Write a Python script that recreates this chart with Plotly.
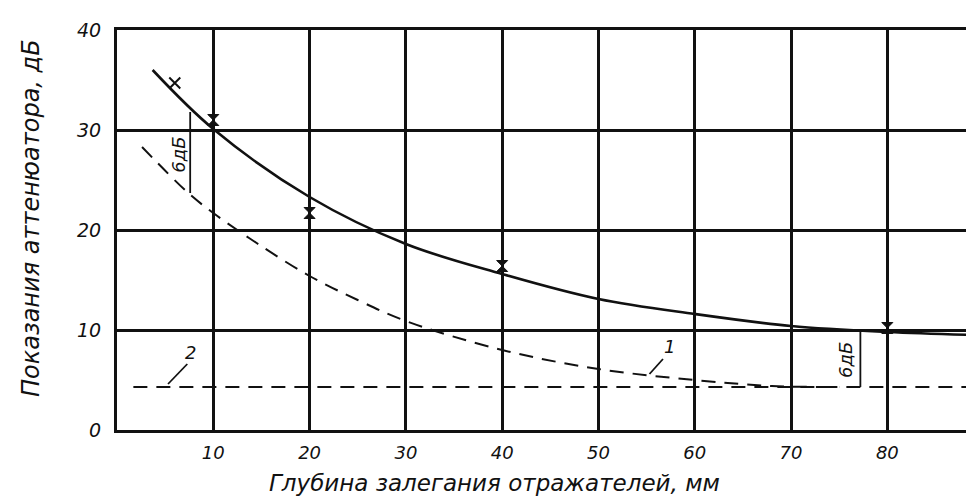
import plotly.graph_objects as go

# ---- data ----
x_ticks = [10, 20, 30, 40, 50, 60, 70, 80]
y_ticks = [0, 10, 20, 30, 40]

solid_x = [3.7, 10, 20, 30, 40, 50, 60, 70, 80, 89]
solid_y = [36.0, 30.1, 23.3, 18.6, 15.6, 13.1, 11.6, 10.4, 9.8, 9.5]

curve1_x = [2.6, 7.4, 10, 14.5, 20, 25, 30, 40, 50, 60, 68, 75]
curve1_y = [28.3, 23.7, 21.7, 18.7, 15.4, 13.0, 10.9, 8.0, 6.1, 5.0, 4.4, 4.3]

curve2_x = [1.7, 89]
curve2_y = [4.3, 4.3]

cross_x = [6.0]
cross_y = [34.7]
pts_x = [10, 20, 40, 80]
pts_y = [31.0, 21.7, 16.4, 10.2]

dim1_x = [7.6, 7.6]
dim1_y = [31.8, 23.7]
dim2_x = [77.2, 77.2]
dim2_y = [9.9, 4.3]

lead1_x = [55.3, 56.7]
lead1_y = [5.6, 7.1]
lead2_x = [5.3, 7.3]
lead2_y = [4.6, 6.6]

FONT = "DejaVu Sans"
INK = "#111111"

fig = go.Figure()

fig.add_trace(go.Scatter(x=curve2_x, y=curve2_y, mode="lines",
                         line=dict(color=INK, width=2, dash="14px,9px")))
fig.add_trace(go.Scatter(x=curve1_x, y=curve1_y, mode="lines",
                         line=dict(color=INK, width=2, dash="14px,9px", shape="spline")))
fig.add_trace(go.Scatter(x=solid_x, y=solid_y, mode="lines",
                         line=dict(color=INK, width=2.6, shape="spline")))
fig.add_trace(go.Scatter(x=cross_x, y=cross_y, mode="markers",
                         marker=dict(symbol="x-thin", size=11, line=dict(color=INK, width=2))))
fig.add_trace(go.Scatter(x=pts_x, y=pts_y, mode="markers",
                         marker=dict(symbol="hourglass", size=11, color=INK,
                                     line=dict(color=INK, width=1))))
for dx, dy in [(dim1_x, dim1_y), (dim2_x, dim2_y), (lead1_x, lead1_y), (lead2_x, lead2_y)]:
    fig.add_trace(go.Scatter(x=dx, y=dy, mode="lines", line=dict(color=INK, width=1.8)))

ann_font = dict(family=FONT, size=18, color=INK, style="italic")
fig.add_annotation(x=6.3, y=27.5, text="6дБ", textangle=-90, showarrow=False, font=ann_font)
fig.add_annotation(x=75.6, y=7.0, text="6дБ", textangle=-90, showarrow=False, font=ann_font)
fig.add_annotation(x=57.4, y=8.4, text="1", showarrow=False, font=ann_font)
fig.add_annotation(x=7.6, y=7.8, text="2", showarrow=False, font=ann_font)

fig.add_annotation(xref="paper", yref="paper", x=-0.1003, y=0.53,
                   xanchor="center", yanchor="middle",
                   text="Показания аттенюатора, дБ", textangle=-90, showarrow=False,
                   font=dict(family=FONT, size=24, color=INK, style="italic"))
fig.add_annotation(xref="paper", yref="paper", x=0.441, y=-0.1325,
                   xanchor="center", yanchor="middle",
                   text="Глубина залегания отражателей, мм", showarrow=False,
                   font=dict(family=FONT, size=23, color=INK, style="italic"))

fig.update_layout(
    width=966, height=489,
    margin=dict(l=109, r=0, t=22, b=67),
    paper_bgcolor="white", plot_bgcolor="white",
    showlegend=False,
    font=dict(family=FONT, color=INK),
)
fig.update_xaxes(range=[0, 89], tickvals=x_ticks, ticktext=[str(v) for v in x_ticks],
                 showgrid=True, gridcolor=INK, gridwidth=3,
                 showline=True, linecolor=INK, linewidth=3, mirror=True,
                 zeroline=False, ticks="", ticklabelstandoff=4,
                 tickfont=dict(family=FONT, size=18, color=INK, style="italic"))
fig.update_yaxes(range=[0, 40], tickvals=y_ticks, ticktext=[str(v) for v in y_ticks],
                 showgrid=True, gridcolor=INK, gridwidth=3,
                 showline=True, linecolor=INK, linewidth=3,
                 zeroline=False, ticks="", ticklabelstandoff=9,
                 tickfont=dict(family=FONT, size=19, color=INK, style="italic"))

fig.write_html("out.html")
